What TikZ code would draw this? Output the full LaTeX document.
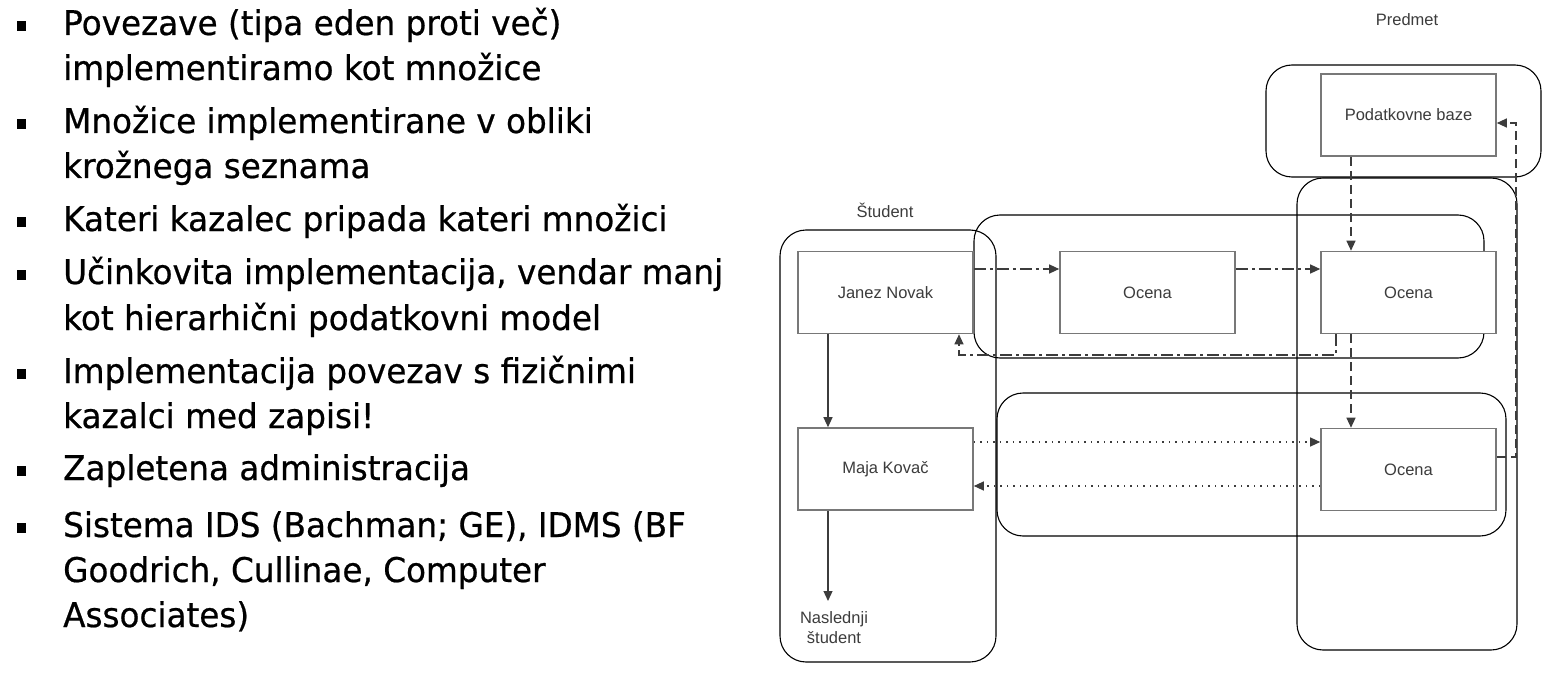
\documentclass[tikz,border=0pt]{standalone}
\usepackage{fontspec}
\usetikzlibrary{arrows.meta,calc}
\newfontfamily\bulfont{DejaVu Sans}[FakeStretch=0.96,FakeBold=0.6]
\newfontfamily\diafont{Liberation Sans}
\definecolor{boxline}{RGB}{120,120,120}
\definecolor{conn}{RGB}{60,60,60}
\definecolor{labtxt}{RGB}{60,60,60}
\begin{document}
\begin{tikzpicture}[x=1pt,y=-1pt,
  line/.style={anchor=base west,inner sep=0pt,font=\bulfont\fontsize{34}{40}\selectfont},
  bul/.style={fill=black,inner sep=0pt,minimum width=9pt,minimum height=10pt},
  rec/.style={draw=boxline,line width=1.6pt,fill=white,minimum width=175pt,minimum height=82pt,inner sep=0pt,
    text=labtxt,font=\diafont\fontsize{16.5}{20}\selectfont},
  grp/.style={draw=black,line width=1.1pt,rounded corners=26pt},
  lab/.style={text=labtxt,font=\diafont\fontsize{16.5}{20}\selectfont,inner sep=0pt},
  cn/.style={draw=conn,line width=1.2pt,-{Triangle[length=10pt,width=9pt]}},
  dd/.style={cn,dash pattern=on 12pt off 4pt on 3pt off 4pt},
  dsh/.style={cn,dash pattern=on 9pt off 5pt},
  dt/.style={cn,dash pattern=on 1.5pt off 5pt},
]
\useasboundingbox (0,0) rectangle (1556,690);
% bullet list
\node[line] (l1) at (63,35) {Povezave (tipa eden proti več)};
\node[line] (l2) at (63,80) {implementiramo kot množice};
\node[line] (l3) at (63,133) {Množice implementirane v obliki};
\node[line] (l4) at (63,178) {krožnega seznama};
\node[line] (l5) at (63,231) {Kateri kazalec pripada kateri množici};
\node[line] (l6) at (63,284) {Učinkovita implementacija, vendar manj};
\node[line] (l7) at (63,330) {kot hierarhični podatkovni model};
\node[line] (l8) at (63,383) {Implementacija povezav s fizičnimi};
\node[line] (l9) at (63,428) {kazalci med zapisi!};
\node[line] (l10) at (63,480) {Zapletena administracija};
\node[line] (l11) at (63,537) {Sistema IDS (Bachman; GE), IDMS (BF};
\node[line] (l12) at (63,582) {Goodrich, Cullinae, Computer};
\node[line] (l13) at (63,627) {Associates)};
\node[bul] (b1) at (21,26) {};
\node[bul] (b2) at (21,124) {};
\node[bul] (b3) at (21,222) {};
\node[bul] (b4) at (21,275) {};
\node[bul] (b5) at (21,374) {};
\node[bul] (b6) at (21,471) {};
\node[bul] (b7) at (21,528) {};
% groups
\draw[grp] (780,230) rectangle (996,662);
\draw[grp] (974,215) rectangle (1484,358);
\draw[grp] (997,393) rectangle (1506,536);
\draw[grp] (1297,178) rectangle (1517,650);
\draw[grp] (1266,65) rectangle (1541,177);
% labels
\node[lab] (lstud) at (885,210) {Študent};
\node[lab] (lpred) at (1407,20) {Predmet};
% boxes
\node[rec] (pb) at (1408.5,115) {Podatkovne baze};
\node[rec] (janez) at (885.5,292.5) {Janez Novak};
\node[rec] (ocm) at (1147.5,292.5) {Ocena};
\node[rec] (ocr) at (1408.5,292.5) {Ocena};
\node[rec] (maja) at (885.5,469) {Maja Kovač};
\node[rec] (ocb) at (1408.5,469.5) {Ocena};
\node[lab,align=center] (next) at (834,628) {Naslednji\\študent};
% helper coordinates
\coordinate (y269) at (0,269);
\coordinate (y355) at (0,355);
\coordinate (y457) at (0,457);
\coordinate (y123) at (0,123);
\coordinate (y442) at (0,442);
\coordinate (y486) at (0,486);
\coordinate (x1336) at (1336,0);
\coordinate (x959) at (959,0);
\coordinate (x1351) at (1351,0);
\coordinate (x1516) at (1516,0);
\coordinate (x828) at (828,0);
\coordinate (nxt) at (828,601);
% connectors
\draw[dd] (janez.east |- y269) -- (ocm.west |- y269);
\draw[dd] (ocm.east |- y269) -- (ocr.west |- y269);
\draw[dd] (ocr.south -| x1336) -- (x1336 |- y355) -- (x959 |- y355) -- (janez.south -| x959);
\draw[dsh] (pb.south -| x1351) -- (ocr.north -| x1351);
\draw[dsh] (ocr.south -| x1351) -- (ocb.north -| x1351);
\draw[dsh] (ocb.east |- y457) -- (x1516 |- y457) -- (x1516 |- y123) -- (pb.east |- y123);
\draw[dt] (maja.east |- y442) -- (ocb.west |- y442);
\draw[dt] (ocb.west |- y486) -- (maja.east |- y486);
\draw[cn] (janez.south -| x828) -- (maja.north -| x828);
\draw[cn] (maja.south -| x828) -- (nxt);
\end{tikzpicture}
\end{document}
